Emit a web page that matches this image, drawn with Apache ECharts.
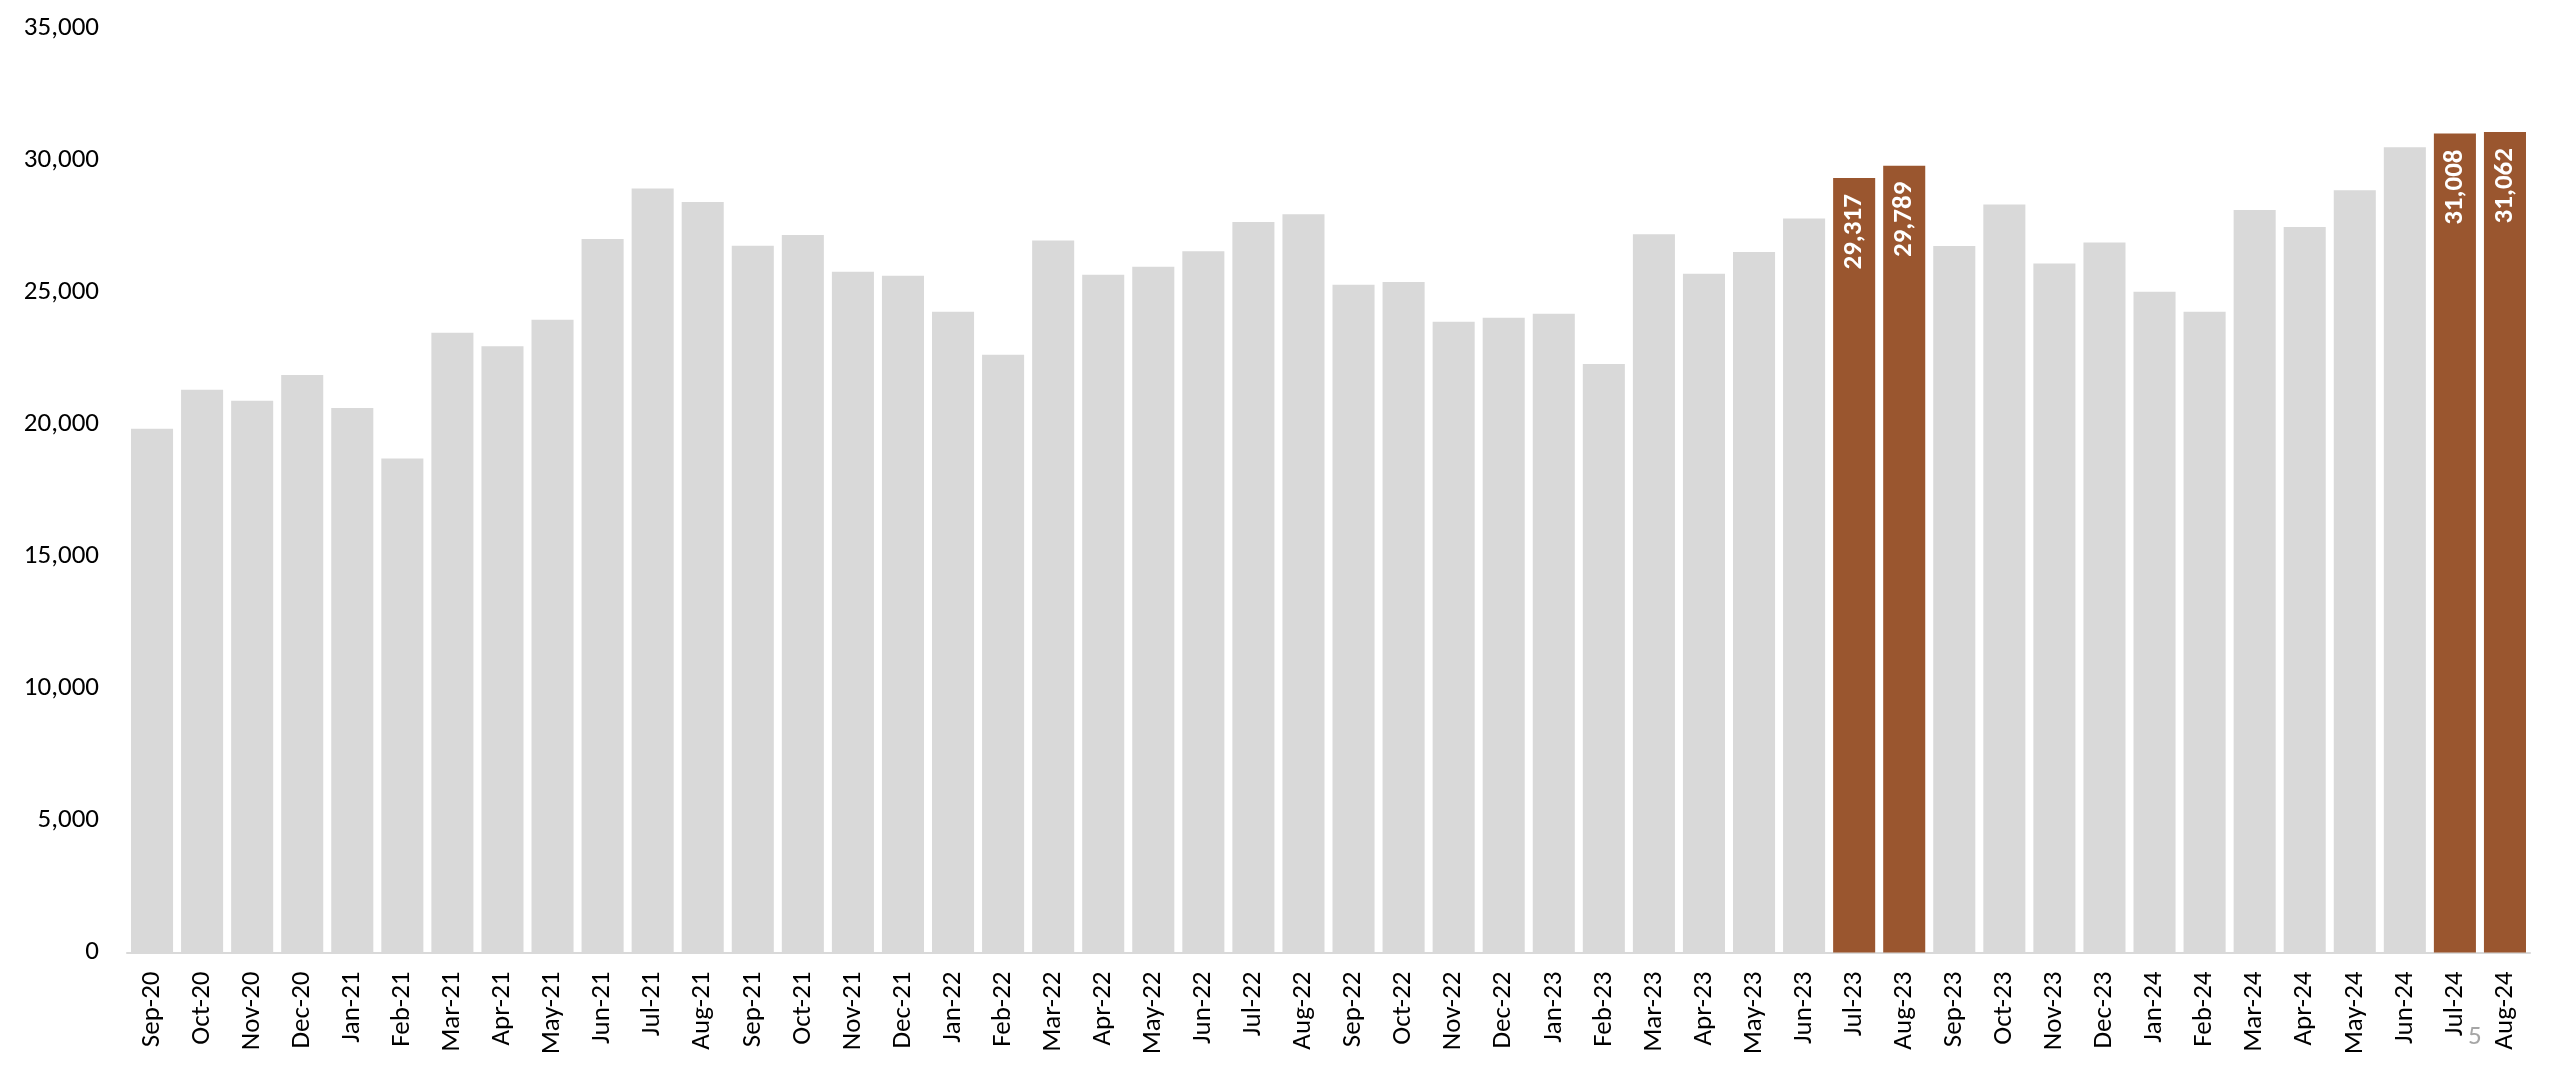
<!DOCTYPE html>
<html>
<head>
<meta charset="utf-8">
<script src="https://cdn.jsdelivr.net/npm/echarts@6/dist/echarts.min.js"></script>
<style>
html,body{margin:0;padding:0;background:#fff;}
#chart{width:2560px;height:1065px;}
</style>
</head>
<body>
<div id="chart"></div>
<script>
var categories = ['Sep-20','Oct-20','Nov-20','Dec-20','Jan-21','Feb-21','Mar-21','Apr-21','May-21','Jun-21','Jul-21','Aug-21',
  'Sep-21','Oct-21','Nov-21','Dec-21','Jan-22','Feb-22','Mar-22','Apr-22','May-22','Jun-22','Jul-22','Aug-22',
  'Sep-22','Oct-22','Nov-22','Dec-22','Jan-23','Feb-23','Mar-23','Apr-23','May-23','Jun-23','Jul-23','Aug-23',
  'Sep-23','Oct-23','Nov-23','Dec-23','Jan-24','Feb-24','Mar-24','Apr-24','May-24','Jun-24','Jul-24','Aug-24'];
var values = [19830,21307,20890,21863,20613,18705,23466,22948,23958,27015,28920,28417,
  26761,27165,25776,25625,24261,22633,26951,25663,25966,26547,27657,27948,
  25284,25385,23883,24034,24186,22280,27191,25701,26521,27784,29317,29789,
  26750,28314,26080,26875,25019,24261,28113,27468,28857,30485,31008,31062];
var highlighted = ['Jul-23','Aug-23','Jul-24','Aug-24'];
var yTicks = {min:0, max:35000, interval:5000};
var pageNumber = '5';

var FONT = 'Carlito, Lato, "Liberation Sans", sans-serif';
var GREY = '#d9d9d9';
var BROWN = '#9a562f';

var data = categories.map(function(c, i){
  var hl = highlighted.indexOf(c) >= 0;
  return {
    value: values[i],
    itemStyle: {color: hl ? BROWN : GREY},
    label: {show: hl}
  };
});

var chart = echarts.init(document.getElementById('chart'), null, {renderer:'canvas'});
chart.setOption({
  animation: false,
  backgroundColor: '#ffffff',
  grid: {left:127, right:30, top:28, bottom:112.5, containLabel:false},
  xAxis: {
    type: 'category',
    data: categories,
    axisTick: {show:false},
    axisLine: {show:true, lineStyle:{color:GREY, width:2}},
    axisLabel: {rotate:90, interval:0, margin:19, fontSize:27, color:'#000', fontFamily:FONT}
  },
  yAxis: {
    type: 'value',
    min: yTicks.min, max: yTicks.max, interval: yTicks.interval,
    splitLine: {show:false},
    axisLine: {show:false},
    axisTick: {show:false},
    axisLabel: {
      margin: 28, fontSize: 27, color:'#000', fontFamily:FONT,
      formatter: function(v){ return v.toLocaleString('en-US'); }
    }
  },
  series: [{
    type: 'bar',
    data: data,
    barCategoryGap: '16%',
    label: {
      show: false,
      position: 'insideTop',
      rotate: 90,
      align: 'right',
      verticalAlign: 'middle',
      distance: 16,
      color: '#fff',
      fontWeight: 'bold',
      fontSize: 27,
      fontFamily: FONT,
      formatter: function(p){ return p.value.toLocaleString('en-US'); }
    }
  }],
  graphic: [{
    type: 'text',
    left: 2468,
    top: 1024,
    style: {text: pageNumber, fill:'#a6a6a6', fontSize:27, fontFamily:FONT}
  }]
});
</script>
</body>
</html>
